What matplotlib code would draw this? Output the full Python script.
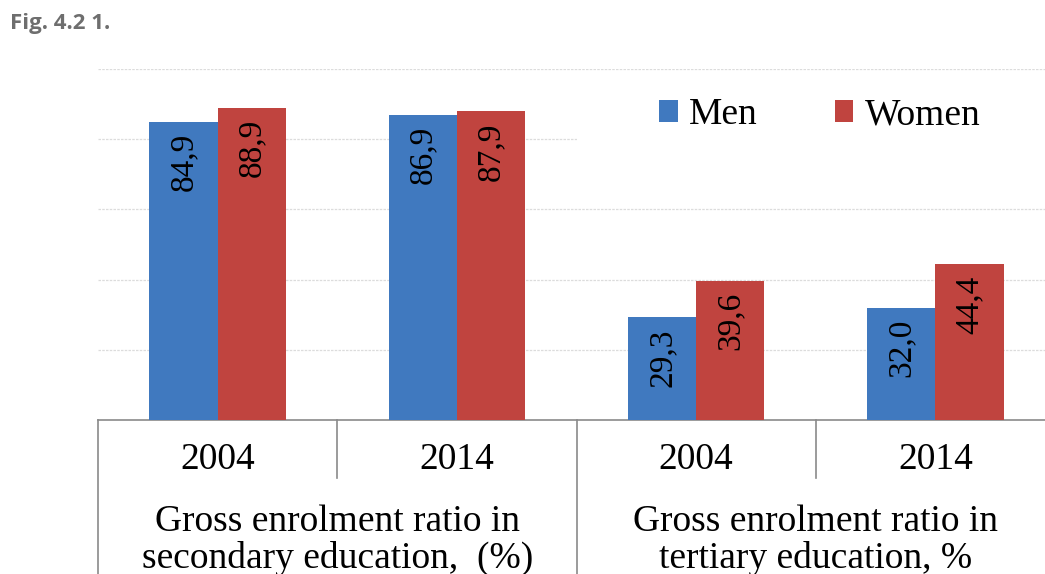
import matplotlib.pyplot as plt
from matplotlib.patches import Rectangle
import numpy as np

# data
years = ["2004", "2014", "2004", "2014"]
groups = ["Gross enrolment ratio in\nsecondary education,  (%)",
          "Gross enrolment ratio in\ntertiary education, %"]
men = [84.9, 86.9, 29.3, 32.0]
women = [88.9, 87.9, 39.6, 44.4]

blue = "#4079BF"
red = "#C0443F"
serif = "Liberation Serif"

fig = plt.figure(figsize=(10.45, 5.74), dpi=100)
ax = fig.add_axes([98 / 1045, 154 / 574, 957 / 1045, 351 / 574])

x = np.arange(len(years))
w = 0.285
b1 = ax.bar(x - w / 2, men, w, color=blue, label="Men", zorder=3)
b2 = ax.bar(x + w / 2, women, w, color=red, label="Women", zorder=3)

# labels inside bar tops, rotated
for bars, vals in [(b1, men), (b2, women)]:
    for r, v in zip(bars, vals):
        ax.annotate(f"{v:.1f}".replace(".", ","),
                    (r.get_x() + r.get_width() / 2, r.get_height()),
                    xytext=(0, -8), textcoords="offset points",
                    rotation=90, ha="center", va="top",
                    fontsize=24, family=serif, color="black", zorder=4)

ax.set_xlim(-0.5, 3.5)
ax.set_ylim(0, 100)
ax.set_yticks([20, 40, 60, 80, 100])
ax.yaxis.grid(True, color="#dcdcdc", lw=0.9, ls=(0, (2, 1)), zorder=0)
ax.set_axisbelow(True)
ax.tick_params(left=False, labelleft=False, bottom=False, labelbottom=False)
for s in ["left", "right", "top"]:
    ax.spines[s].set_visible(False)
ax.spines["bottom"].set_color("#8a8a8a")
ax.spines["bottom"].set_linewidth(1.2)

# white area behind legend
ax.add_patch(Rectangle((0.5005, 0.72), 0.6, 0.25, transform=ax.transAxes,
                       facecolor="white", edgecolor="none", zorder=1))

leg = fig.legend(loc="center left", bbox_to_anchor=(659 / 1045, 1 - 115 / 574),
                 ncol=2, frameon=False, prop={"family": serif, "size": 27},
                 handlelength=0.5, handleheight=0.5, handletextpad=0.3,
                 columnspacing=2.05, borderpad=0, borderaxespad=0)

# table-like category axis
tr = ax.get_xaxis_transform()
for xv, y0 in [(-0.5, -0.44), (0.5, -0.165), (1.5, -0.44), (2.5, -0.165)]:
    ax.plot([xv, xv], [0, y0], transform=tr, color="#8a8a8a", lw=1.2,
            clip_on=False)
for xi, yr in zip(x, years):
    ax.text(xi, -0.114, yr, transform=tr, ha="center", va="center",
            fontsize=27, family=serif)
for gi, g in enumerate(groups):
    ax.text(2 * gi + 0.5, -0.343, g, transform=tr, ha="center", va="center",
            fontsize=27, family=serif, linespacing=1.05)

fig.text(10 / 1045, 1 - 23 / 574, "Fig. 4.2 1.", ha="left", va="center",
         fontsize=16, fontweight="bold", family="Open Sans", color="#6e6e6e")

fig.savefig("out.png", dpi=100)
